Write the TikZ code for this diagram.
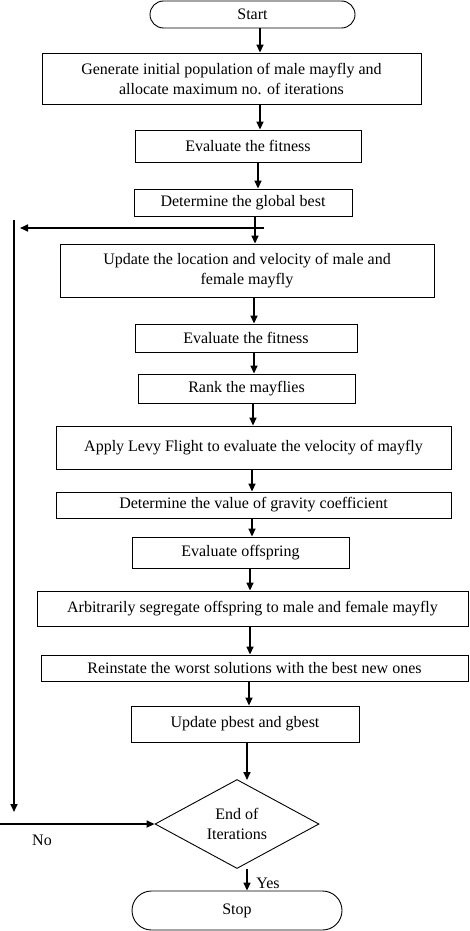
\documentclass[tikz,border=0pt]{standalone}
\usepackage{fontspec}
\setmainfont{Liberation Serif}
\usetikzlibrary{arrows.meta,shapes.misc,shapes.geometric}
\begin{document}
\begin{tikzpicture}[x=1pt,y=-1pt,
  every node/.style={font=\fontsize{16}{20}\selectfont},
  box/.style={draw,line width=0.9pt,rectangle,inner sep=0pt,align=center},
  term/.style={draw,line width=0.9pt,rounded rectangle,inner sep=0pt,align=center},
  dec/.style={draw,line width=0.9pt,diamond,inner sep=0pt,aspect=1.84,align=center},
  arr/.style={line width=1.6pt,-{Triangle[length=8pt,width=7pt]}}]
\useasboundingbox (0,0) rectangle (469,931);
\node[term,minimum width=205pt,minimum height=27pt] (start) at (252.5,14.5) {Start};
\node[box,minimum width=379pt,minimum height=51pt] (b1) at (231.5,78.5) {Generate initial population of male mayfly and\\allocate maximum no. of iterations};
\node[box,minimum width=226pt,minimum height=32pt] (b2) at (248,146) {Evaluate the fitness};
\node[box,minimum width=218pt,minimum height=27pt] (b3) at (243,202.5) {Determine the global best};
\node[box,minimum width=374pt,minimum height=53pt] (b4) at (247,270.5) {Update the location and velocity of male and\\female mayfly};
\node[box,minimum width=222pt,minimum height=28pt] (b5) at (246,338) {Evaluate the fitness};
\node[box,minimum width=217pt,minimum height=29pt] (b6) at (246.5,388.5) {Rank the mayflies};
\node[box,minimum width=395pt,minimum height=43pt] (b7) at (253.5,447.5) {Apply Levy Flight to evaluate the velocity of mayfly};
\node[box,minimum width=395pt,minimum height=26pt] (b8) at (253.5,505) {Determine the value of gravity coefficient};
\node[box,minimum width=217pt,minimum height=31pt] (b9) at (240.5,552.5) {Evaluate offspring};
\node[box,minimum width=431pt,minimum height=35pt] (b10) at (252.5,608.5) {Arbitrarily segregate offspring to male and female mayfly};
\node[box,minimum width=427pt,minimum height=26pt] (b11) at (254.5,668) {Reinstate the worst solutions with the best new ones};
\node[box,minimum width=228pt,minimum height=36pt] (b12) at (245,724) {Update pbest and gbest};
\node[dec,minimum width=164pt,minimum height=89pt] (d) at (237,824) {End of\\Iterations};
\node[term,minimum width=210pt,minimum height=39pt] (stop) at (237,910.5) {Stop};
\node (no) at (42,840) {No};
\node (yes) at (268,883) {Yes};
\coordinate (loopr) at (264,228);
\coordinate (loopl) at (20,228);
\coordinate (vtop) at (14,220);
\coordinate (vbot) at (14,812);
\coordinate (noin) at (0,824);
\draw[arr] (start.south -| 260,0) -- (b1.north -| 260,0);
\draw[arr] (b1.south -| 260,0) -- (b2.north -| 260,0);
\draw[arr] (b2.south -| 258,0) -- (b3.north -| 258,0);
\draw[arr] (b3.south -| 255,0) -- (b4.north -| 255,0);
\draw[arr] (loopr) -- (loopl);
\draw[arr] (vtop) -- (vbot);
\draw[arr] (b4.south -| 254,0) -- (b5.north -| 254,0);
\draw[arr] (b5.south -| 254,0) -- (b6.north -| 254,0);
\draw[arr] (b6.south -| 253,0) -- (b7.north -| 253,0);
\draw[arr] (b7.south -| 252,0) -- (b8.north -| 252,0);
\draw[arr] (b8.south -| 252,0) -- (b9.north -| 252,0);
\draw[arr] (b9.south -| 250,0) -- (b10.north -| 250,0);
\draw[arr] (b10.south -| 250,0) -- (b11.north -| 250,0);
\draw[arr] (b11.south -| 249,0) -- (b12.north -| 249,0);
\draw[arr] (b12.south -| 247,0) -- (247,780);
\draw[arr] (noin) -- (d.west);
\draw[arr] (d.south -| 247,0) -- (stop.north -| 247,0);
\end{tikzpicture}
\end{document}
